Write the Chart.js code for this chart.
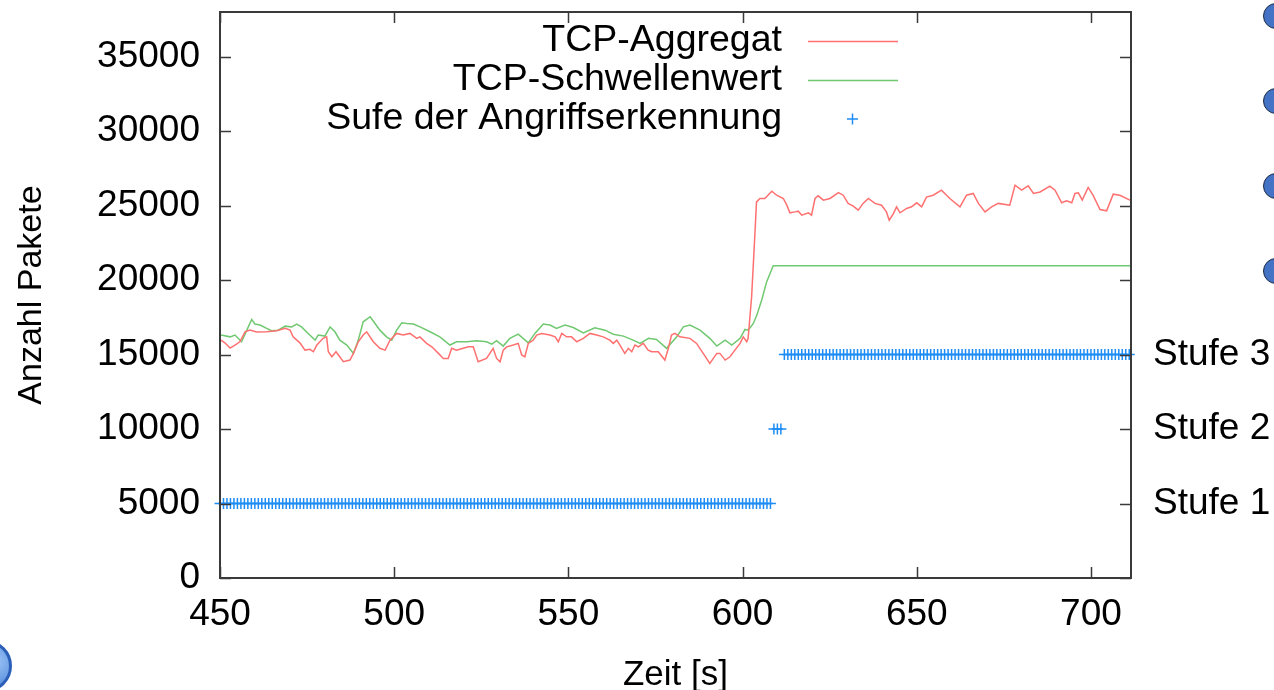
<!DOCTYPE html>
<html>
<head>
<meta charset="utf-8">
<script src="https://cdn.jsdelivr.net/npm/chart.js@4.4.1/dist/chart.umd.min.js"></script>
<style>
html, body { margin: 0; padding: 0; background: #fff; }
#wrap { position: relative; width: 1274px; height: 690px; overflow: hidden; }
#tcpChart { position: absolute; left: 0; top: 0; }
.dot { position: absolute; width: 26px; height: 26px; border-radius: 50%; background: #4472c4; border: 1.5px solid #1d2b45; box-sizing: border-box; }
.logo { position: absolute; left: -40px; top: 640px; width: 52px; height: 52px; border-radius: 50%; border: 3px solid #2c5fb8; background: radial-gradient(circle at 70% 40%, #9cc3f5, #2f6fd0); box-sizing: border-box; }
</style>
</head>
<body>
<div id="wrap">
<canvas id="tcpChart" width="1274" height="690"></canvas>
<div class="dot" style="left:1263px;top:3px"></div>
<div class="dot" style="left:1263px;top:88px"></div>
<div class="dot" style="left:1263px;top:173px"></div>
<div class="dot" style="left:1263px;top:258px"></div>
<div class="logo"></div>
</div>
<script>
// TCP-Aggregat (Zeit in s, Anzahl Pakete)
const aggZeit = [450.3, 451.4, 452.9, 454.3, 455.7, 457.2, 458.6, 460.5, 463.4, 466.3, 468.7, 470.1, 471.0, 473.0, 474.4, 475.8, 476.8, 477.8, 479.6, 480.6,
  481.1, 482.1, 483.3, 484.0, 485.4, 487.3, 488.3, 489.7, 491.1, 492.1, 494.0, 495.9, 497.4, 498.8, 500.7, 502.6, 504.5, 506.5, 507.4, 509.3,
  510.8, 512.7, 514.1, 515.5, 516.5, 517.9, 519.8, 521.3, 522.7, 524.1, 526.5, 528.4, 529.4, 530.4, 531.3, 532.3, 534.2, 535.6, 536.6, 537.5,
  538.5, 539.9, 540.9, 542.3, 544.7, 546.2, 547.1, 548.1, 549.5, 550.9, 552.4, 554.3, 556.2, 558.1, 560.0, 561.9, 562.9, 563.9, 564.8, 566.2,
  567.2, 568.2, 569.1, 570.1, 571.5, 572.9, 573.9, 575.8, 577.7, 578.7, 579.6, 580.6, 582.0, 584.9, 586.8, 588.7, 590.6, 592.6, 593.5, 595.0,
  596.4, 597.8, 599.3, 600.2, 601.2, 601.6, 602.6, 603.6, 604.0, 605.0, 606.4, 608.4, 609.8, 611.7, 612.7, 613.6, 615.0, 616.0, 617.0, 618.9,
  619.8, 620.8, 621.7, 623.2, 625.1, 627.5, 628.9, 630.3, 631.8, 633.2, 634.6, 636.1, 638.0, 639.9, 641.3, 642.1, 643.3, 644.2, 645.2, 647.1,
  648.5, 650.0, 651.4, 652.8, 654.7, 657.1, 659.5, 662.4, 664.3, 666.2, 667.7, 669.6, 671.5, 673.4, 676.7, 678.2, 680.1, 682.0, 683.5, 685.4,
  688.2, 689.7, 691.6, 693.0, 694.5, 695.4, 696.4, 697.5, 699.2, 700.6, 702.6, 704.5, 706.4, 708.3, 711.2];
const aggWert = [15970, 15790, 15440, 15640, 15860, 16530, 16640, 16510, 16530, 16600, 16760, 16640, 16190, 15770, 15300, 15350, 15190, 15640, 16090, 16190,
  15190, 14850, 15190, 14970, 14520, 14630, 15080, 15860, 16310, 16530, 15860, 15420, 15300, 15970, 16420, 16310, 16420, 16090, 16190, 15750,
  15520, 15080, 14740, 14740, 15420, 15300, 15420, 15520, 15520, 14520, 14740, 15420, 14740, 14520, 15300, 15520, 15640, 15750, 14970, 14850,
  15750, 15970, 16310, 16420, 16310, 16190, 15860, 16420, 16190, 16190, 15860, 16090, 16420, 16310, 16190, 15970, 15750, 15970, 15640, 15080,
  15420, 15190, 15640, 15520, 15750, 15300, 15190, 15190, 14630, 15420, 16310, 16420, 16190, 16090, 15750, 15080, 14410, 15080, 15080, 14630,
  14850, 15300, 15750, 16190, 15860, 16090, 18880, 23350, 25250, 25480, 25480, 25970, 25700, 25480, 25030, 24520, 24580, 24630, 24360, 24520,
  24360, 25480, 25660, 25370, 25480, 25880, 25700, 25150, 24970, 24700, 25150, 25480, 25150, 25030, 24580, 24020, 24470, 24920, 24520, 24810,
  24920, 25190, 24920, 25570, 25700, 26040, 25480, 24920, 25700, 25820, 25150, 24580, 24920, 25150, 25030, 26370, 26040, 26330, 25820, 25920,
  26310, 26040, 25190, 25320, 25190, 25820, 25860, 25370, 26220, 25700, 24740, 24650, 25770, 25700, 25370];

// TCP-Schwellenwert
const schwZeit = [450.3, 452.9, 454.3, 456.2, 457.7, 459.1, 460.0, 461.5, 463.4, 464.8, 466.7, 468.7, 470.6, 472.0, 473.4, 475.3, 477.3, 478.2, 480.1, 481.6,
  483.0, 484.4, 486.4, 488.3, 489.7, 491.1, 493.1, 494.5, 495.9, 497.8, 499.3, 500.7, 502.2, 503.6, 505.5, 507.4, 510.3, 513.1, 516.0, 517.9,
  520.8, 523.7, 526.5, 528.0, 529.4, 531.3, 533.2, 535.6, 538.5, 540.4, 542.8, 544.7, 546.6, 549.0, 551.4, 554.3, 557.6, 560.5, 562.9, 565.8,
  568.6, 570.6, 573.0, 575.3, 578.2, 581.1, 583.0, 584.9, 587.8, 590.6, 592.6, 595.0, 596.9, 599.3, 600.7, 601.6, 603.1, 604.1, 605.5, 606.9,
  608.8, 711.5];
const schwWert = [16310, 16190, 16310, 15860, 16640, 17360, 17050, 16980, 16760, 16600, 16640, 16910, 16860, 17050, 16860, 16420, 15970, 16310, 16240, 16860,
  16530, 15970, 15640, 15080, 15970, 17200, 17540, 17090, 16640, 16190, 15970, 16640, 17130, 17090, 17050, 16860, 16530, 16190, 15640, 15860,
  15860, 15930, 15860, 15700, 15930, 15570, 16090, 16370, 15790, 16420, 17050, 16980, 16760, 16980, 16820, 16460, 16800, 16640, 16370, 16240,
  15970, 15750, 16090, 16020, 15420, 16190, 16860, 16980, 16640, 16090, 15570, 15970, 15640, 16090, 16690, 16640, 17090, 17650, 18660, 19880,
  20960, 20960];

// Stufe der Angriffserkennung: Zeitpunkte je Stufe
const stufe1Zeit = [450, 451, 452, 453, 454, 455, 456, 457, 458, 459, 460, 461, 462, 463, 464, 465, 466, 467, 468, 469,
  470, 471, 472, 473, 474, 475, 476, 477, 478, 479, 480, 481, 482, 483, 484, 485, 486, 487, 488, 489,
  490, 491, 492, 493, 494, 495, 496, 497, 498, 499, 500, 501, 502, 503, 504, 505, 506, 507, 508, 509,
  510, 511, 512, 513, 514, 515, 516, 517, 518, 519, 520, 521, 522, 523, 524, 525, 526, 527, 528, 529,
  530, 531, 532, 533, 534, 535, 536, 537, 538, 539, 540, 541, 542, 543, 544, 545, 546, 547, 548, 549,
  550, 551, 552, 553, 554, 555, 556, 557, 558, 559, 560, 561, 562, 563, 564, 565, 566, 567, 568, 569,
  570, 571, 572, 573, 574, 575, 576, 577, 578, 579, 580, 581, 582, 583, 584, 585, 586, 587, 588, 589,
  590, 591, 592, 593, 594, 595, 596, 597, 598, 599, 600, 601, 602, 603, 604, 605, 606, 607, 608];
const stufe2Zeit = [609, 610, 611];
const stufe3Zeit = [612, 613, 614, 615, 616, 617, 618, 619, 620, 621, 622, 623, 624, 625, 626, 627, 628, 629, 630, 631,
  632, 633, 634, 635, 636, 637, 638, 639, 640, 641, 642, 643, 644, 645, 646, 647, 648, 649, 650, 651,
  652, 653, 654, 655, 656, 657, 658, 659, 660, 661, 662, 663, 664, 665, 666, 667, 668, 669, 670, 671,
  672, 673, 674, 675, 676, 677, 678, 679, 680, 681, 682, 683, 684, 685, 686, 687, 688, 689, 690, 691,
  692, 693, 694, 695, 696, 697, 698, 699, 700, 701, 702, 703, 704, 705, 706, 707, 708, 709, 710, 711];
const stufeWerte = [5000, 10000, 15000];
const stufeNamen = ['Stufe 1', 'Stufe 2', 'Stufe 3'];

const xTicks = [450, 500, 550, 600, 650, 700];
const yTicks = [0, 5000, 10000, 15000, 20000, 25000, 30000, 35000];
const legendNamen = ['TCP-Aggregat', 'TCP-Schwellenwert', 'Sufe der Angriffserkennung'];

const FONT = "'Liberation Sans', Arial, sans-serif";
const ROT = '#ff7070';
const GRUEN = '#70c870';
const BLAU = '#1e8cf5';

const toPoints = (xs, ys) => xs.map((x, i) => ({ x: x, y: ys[i] }));
const stufePunkte = [stufe1Zeit, stufe2Zeit, stufe3Zeit]
  .flatMap((zeiten, i) => zeiten.map(t => ({ x: t, y: stufeWerte[i] })));

// feste Achsengroessen, damit der Plotbereich wie im Original liegt
const fixSize = (w, h) => s => {
  if (w !== null) s.width = w;
  if (h !== null) s.height = h;
  s.paddingTop = 0; s.paddingBottom = 0; s.paddingLeft = 0; s.paddingRight = 0;
};

// gnuplot-artiger Rahmen mit Innen-Ticks und Legende oben rechts
const gnuplotFrame = {
  id: 'gnuplotFrame',
  afterDraw(chart) {
    const ctx = chart.ctx;
    const a = chart.chartArea;
    const xs = chart.scales.x, ys = chart.scales.y;
    ctx.save();
    ctx.strokeStyle = '#3a3a3a';
    ctx.lineWidth = 2;
    ctx.strokeRect(a.left, a.top, a.right - a.left, a.bottom - a.top);
    ctx.lineWidth = 1.5;
    ctx.beginPath();
    yTicks.forEach(v => {
      const py = Math.round(ys.getPixelForValue(v)) + 0.5;
      ctx.moveTo(a.left, py); ctx.lineTo(a.left + 11, py);
      ctx.moveTo(a.right, py); ctx.lineTo(a.right - 11, py);
    });
    xTicks.forEach(v => {
      const px = Math.round(xs.getPixelForValue(v)) + 0.5;
      ctx.moveTo(px, a.bottom); ctx.lineTo(px, a.bottom - 11);
      ctx.moveTo(px, a.top); ctx.lineTo(px, a.top + 11);
    });
    ctx.stroke();

    // Legende
    const rows = [41, 80, 119];
    const farben = [ROT, GRUEN, BLAU];
    ctx.font = '37.5px ' + FONT;
    ctx.fillStyle = '#000';
    ctx.textAlign = 'right';
    ctx.textBaseline = 'middle';
    legendNamen.forEach((name, i) => {
      ctx.fillText(name, 782, rows[i]);
      ctx.strokeStyle = farben[i];
      ctx.beginPath();
      if (i < 2) {
        ctx.lineWidth = 1.5;
        ctx.moveTo(808, rows[i] + 0.5); ctx.lineTo(898, rows[i] + 0.5);
      } else {
        ctx.lineWidth = 1.5;
        ctx.moveTo(847, rows[i]); ctx.lineTo(858, rows[i]);
        ctx.moveTo(852.5, rows[i] - 5.5); ctx.lineTo(852.5, rows[i] + 5.5);
      }
      ctx.stroke();
    });
    ctx.restore();
  }
};

const ctx = document.getElementById('tcpChart').getContext('2d');
const tcpChart = new Chart(ctx, {
  type: 'line',
  data: {
    datasets: [{
      label: legendNamen[0],
      data: toPoints(aggZeit, aggWert),
      borderColor: ROT,
      borderWidth: 1.5,
      pointRadius: 0,
      tension: 0,
      fill: false,
    }, {
      label: legendNamen[1],
      data: toPoints(schwZeit, schwWert),
      borderColor: GRUEN,
      borderWidth: 1.5,
      pointRadius: 0,
      tension: 0,
      fill: false,
    }, {
      label: legendNamen[2],
      data: stufePunkte,
      showLine: false,
      pointStyle: 'cross',
      pointRadius: 5.5,
      pointBorderWidth: 1.5,
      pointBorderColor: BLAU,
      pointBackgroundColor: BLAU,
      clip: false,
    }]
  },
  options: {
    responsive: false,
    animation: false,
    devicePixelRatio: 1,
    layout: { padding: { top: 12, left: 0, right: 0, bottom: 0 } },
    plugins: {
      legend: { display: false },
      tooltip: { enabled: false },
    },
    scales: {
      x: {
        type: 'linear',
        min: 450,
        max: 711.5,
        grid: { display: false },
        border: { display: false },
        afterBuildTicks: s => { s.ticks = xTicks.map(v => ({ value: v })); },
        afterFit: fixSize(null, 112),
        ticks: { color: '#000', font: { family: FONT, size: 37 }, padding: 7, maxRotation: 0, callback: v => String(v) },
        title: { display: true, text: 'Zeit [s]', color: '#000', font: { family: FONT, size: 35, lineHeight: 0.85 }, padding: { top: 0, bottom: 0 } },
      },
      y: {
        type: 'linear',
        min: 0,
        max: 38000,
        grid: { display: false },
        border: { display: false },
        afterBuildTicks: s => { s.ticks = yTicks.map(v => ({ value: v })); },
        afterFit: fixSize(220, null),
        ticks: { color: '#000', font: { family: FONT, size: 37 }, padding: 12, callback: v => String(v) },
        title: { display: true, text: 'Anzahl Pakete', color: '#000', font: { family: FONT, size: 34 }, padding: { top: 11, bottom: 0 } },
      },
      y2: {
        type: 'linear',
        position: 'right',
        min: 0,
        max: 38000,
        grid: { display: false },
        border: { display: false },
        afterBuildTicks: s => { s.ticks = stufeWerte.map(v => ({ value: v })); },
        afterFit: fixSize(143, null),
        ticks: {
          color: '#000',
          font: { family: FONT, size: 37 },
          padding: 14,
          callback: v => stufeNamen[stufeWerte.indexOf(v)],
        },
      },
    },
  },
  plugins: [gnuplotFrame],
});
</script>
</body>
</html>
